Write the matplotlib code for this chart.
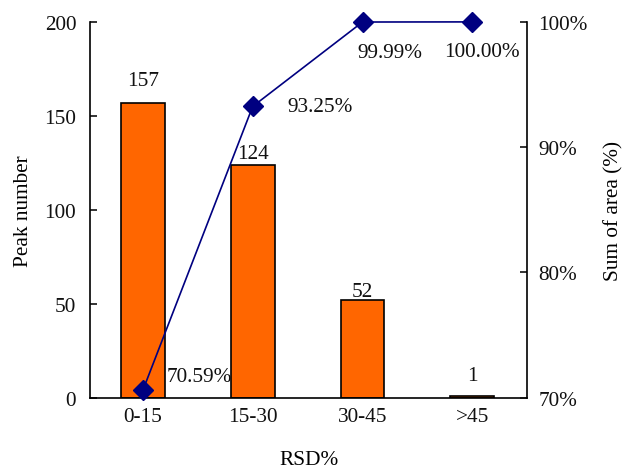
import matplotlib

matplotlib.use("Agg")
import matplotlib.pyplot as plt  # noqa: E402
from matplotlib.ticker import FuncFormatter  # noqa: E402

categories = ["0-15", "15-30", "30-45", ">45"]
peak_number = [157, 124, 52, 1]
sum_area = [70.59, 93.25, 99.99, 100.00]
sum_area_labels = ["70.59%", "93.25%", "99.99%", "100.00%"]

BAR, LINE, INK = "#FF6600", "#000080", "#111111"
plt.rcParams.update({
    "font.family": "Liberation Serif", "font.size": 15.3,
    "text.color": INK, "xtick.color": INK, "ytick.color": INK,
})

fig = plt.figure(figsize=(6.3, 4.77), dpi=100)
ax = fig.add_axes([0.143, 0.164, 0.694, 0.788])
x = range(len(categories))

ax.bar(x, peak_number, width=0.4, color=BAR, edgecolor="black", linewidth=1.2, zorder=1)
ax.set_xlim(-0.48, 3.5)
ax.set_ylim(0, 200)
ax.set_yticks([0, 50, 100, 150, 200])
ax.set_xticks(list(x))
ax.set_xticklabels(categories)
ax.tick_params(axis="x", length=0, pad=7)
ax.tick_params(axis="y", direction="in", length=5, width=1.2, pad=10)
ax.spines["top"].set_visible(False)
ax.spines["right"].set_visible(False)
for sp in ("left", "bottom"):
    ax.spines[sp].set_linewidth(1.2)
ax.set_ylabel("Peak number", labelpad=8)
ax.set_xlabel("RSD%", labelpad=17)

# value labels above bars, offsets in px
bar_offsets = [22, 11, 9, 20]
for xi, v, off in zip(x, peak_number, bar_offsets):
    ax.annotate(f"{v}", (xi, v), textcoords="offset points", xytext=(0, off * 0.72),
                ha="center", va="center")

ax2 = ax.twinx()
ax2.plot(list(x), sum_area, color=LINE, lw=1.2, marker="D", ms=10, mfc=LINE, mec=LINE,
         clip_on=False, zorder=3)
ax2.set_ylim(70, 100)
ax2.set_yticks([70, 80, 90, 100])
ax2.yaxis.set_major_formatter(FuncFormatter(lambda v, _: f"{v:.0f}%"))
ax2.tick_params(axis="y", direction="in", length=5, width=1.2, pad=8)
for sp in ("top", "left", "bottom"):
    ax2.spines[sp].set_visible(False)
ax2.spines["right"].set_linewidth(1.2)
ax2.set_ylabel("Sum of area (%)", labelpad=12)

line_offsets = [(24, 14, "left"), (35, 0, "left"), (-5, -30, "left"), (10, -30, "center")]
for xi, v, lab, (dx, dy, ha) in zip(x, sum_area, sum_area_labels, line_offsets):
    ax2.annotate(lab, (xi, v), textcoords="offset points", xytext=(dx * 0.72, dy * 0.72),
                 ha=ha, va="center")

fig.savefig("out.png", dpi=100)
